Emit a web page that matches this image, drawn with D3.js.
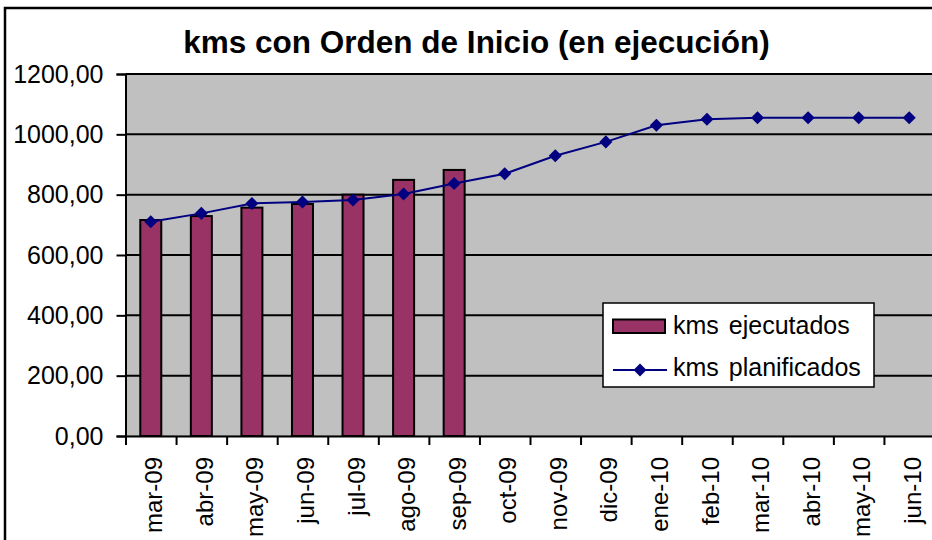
<!DOCTYPE html>
<html>
<head>
<meta charset="utf-8">
<script src="https://d3js.org/d3.v7.min.js"></script>
<style>
    body { margin: 0; background: #ffffff; }
    text { font-family: "Liberation Sans", Arial, sans-serif; }
</style>
</head>
<body>
<div id="chart"></div>
<script>
var meses = ["mar-09", "abr-09", "may-09", "jun-09", "jul-09", "ago-09", "sep-09", "oct-09",
    "nov-09", "dic-09", "ene-10", "feb-10", "mar-10", "abr-10", "may-10", "jun-10"];
var ejecutados = [716, 729, 757, 769, 800, 849, 882];
var planificados = [710, 738, 771, 776, 782, 802, 837, 869, 929, 975, 1030, 1050, 1055, 1055, 1055, 1055];
var yTicks = [0, 200, 400, 600, 800, 1000, 1200];
var titulo = "kms con Orden de Inicio (en ejecución)";
var nombres = ["kms ejecutados", "kms planificados"];

var width = 932, height = 540;
var plot = {left: 125.5, right: 934.5, top: 74, bottom: 436};

var svg = d3.select("#chart")
    .append("svg")
    .attr("width", width)
    .attr("height", height);

// marco exterior del grafico
svg.append("rect")
    .attr("x", 5)
    .attr("y", 8)
    .attr("width", 1000)
    .attr("height", 1000)
    .style("fill", "#ffffff")
    .style("stroke", "#000000")
    .style("stroke-width", 2.5);

var xScale = d3.scaleBand()
    .domain(meses)
    .range([plot.left, plot.right]);

var yScale = d3.scaleLinear()
    .domain([0, 1200])
    .range([plot.bottom, plot.top]);

var es = d3.formatLocale({decimal: ",", thousands: "", grouping: [3], currency: ["", ""]});
var fmt = es.format(".2f");

// area de trazado
svg.append("rect")
    .attr("x", plot.left)
    .attr("y", plot.top)
    .attr("width", plot.right - plot.left)
    .attr("height", plot.bottom - plot.top)
    .style("fill", "#c0c0c0")
    .style("stroke", "#808080")
    .style("stroke-width", 1);

svg.append("g")
    .selectAll("line")
    .data(yTicks.slice(1))
    .enter().append("line")
    .attr("x1", plot.left)
    .attr("x2", plot.right)
    .attr("y1", function (d) { return yScale(d); })
    .attr("y2", function (d) { return yScale(d); })
    .style("stroke", "#000000")
    .style("stroke-width", 2);

// barras
svg.append("g")
    .selectAll("rect")
    .data(ejecutados)
    .enter().append("rect")
    .attr("x", function (d, i) { return xScale(meses[i]) + xScale.bandwidth() / 2 - 10.5; })
    .attr("y", function (d) { return yScale(d); })
    .attr("width", 21)
    .attr("height", function (d) { return yScale(0) - yScale(d); })
    .style("fill", "#993366")
    .style("stroke", "#000000")
    .style("stroke-width", 2);

// ejes
var yAxis = d3.axisLeft(yScale)
    .tickValues(yTicks)
    .tickSize(9)
    .tickPadding(13)
    .tickFormat(fmt);

var gy = svg.append("g")
    .attr("transform", "translate(" + plot.left + ",0)")
    .call(yAxis);
gy.selectAll("text").style("font-size", "25px").style("fill", "#000000");

var xTickScale = d3.scaleLinear()
    .domain([0, meses.length])
    .range([plot.left, plot.right]);

var gx = svg.append("g")
    .attr("transform", "translate(0," + plot.bottom + ")")
    .call(d3.axisBottom(xTickScale).tickValues(d3.range(meses.length + 1)).tickSize(9).tickFormat(""));

svg.append("g")
    .selectAll("text")
    .data(meses)
    .enter().append("text")
    .attr("transform", function (d) {
        return "translate(" + (xScale(d) + xScale.bandwidth() / 2) + "," + (plot.bottom + 21) + ") rotate(-90)";
    })
    .attr("dy", "0.48em")
    .attr("text-anchor", "end")
    .style("font-size", "24px")
    .text(function (d) { return d; });

[gx, gy].forEach(function (g) {
    g.select(".domain").style("stroke", "#000000").style("stroke-width", 2);
    g.selectAll(".tick line").style("stroke", "#000000").style("stroke-width", 2);
});

// linea planificada
var line = d3.line()
    .x(function (d, i) { return xScale(meses[i]) + xScale.bandwidth() / 2; })
    .y(function (d) { return yScale(d); });

svg.append("path")
    .datum(planificados)
    .attr("d", line)
    .style("fill", "none")
    .style("stroke", "#000080")
    .style("stroke-width", 2);

var diamond = d3.symbol().type(d3.symbolSquare).size(85);

svg.append("g")
    .selectAll("path")
    .data(planificados)
    .enter().append("path")
    .attr("d", diamond)
    .attr("transform", function (d, i) {
        return "translate(" + (xScale(meses[i]) + xScale.bandwidth() / 2) + "," + yScale(d) + ") rotate(45)";
    })
    .style("fill", "#000080");

// titulo
svg.append("text")
    .attr("x", 476.5)
    .attr("y", 53)
    .attr("text-anchor", "middle")
    .style("font-size", "31.5px")
    .style("font-weight", "bold")
    .text(titulo);

// leyenda
var legend = svg.append("g");

legend.append("rect")
    .attr("x", 603)
    .attr("y", 303)
    .attr("width", 271)
    .attr("height", 84)
    .style("fill", "#ffffff")
    .style("stroke", "#000000")
    .style("stroke-width", 1.5);

legend.append("rect")
    .attr("x", 613)
    .attr("y", 319.5)
    .attr("width", 52)
    .attr("height", 13.5)
    .style("fill", "#993366")
    .style("stroke", "#000000")
    .style("stroke-width", 2);

legend.append("line")
    .attr("x1", 613)
    .attr("x2", 667)
    .attr("y1", 370)
    .attr("y2", 370)
    .style("stroke", "#000080")
    .style("stroke-width", 2);

legend.append("path")
    .attr("d", diamond)
    .attr("transform", "translate(640,370) rotate(45)")
    .style("fill", "#000080");

for (var index = 0; index < nombres.length; index++) {
    legend.append("text")
        .attr("x", 673)
        .attr("y", 334 + 42 * index)
        .style("font-size", "25px")
        .style("word-spacing", "3px")
        .text(nombres[index]);
}
</script>
</body>
</html>
